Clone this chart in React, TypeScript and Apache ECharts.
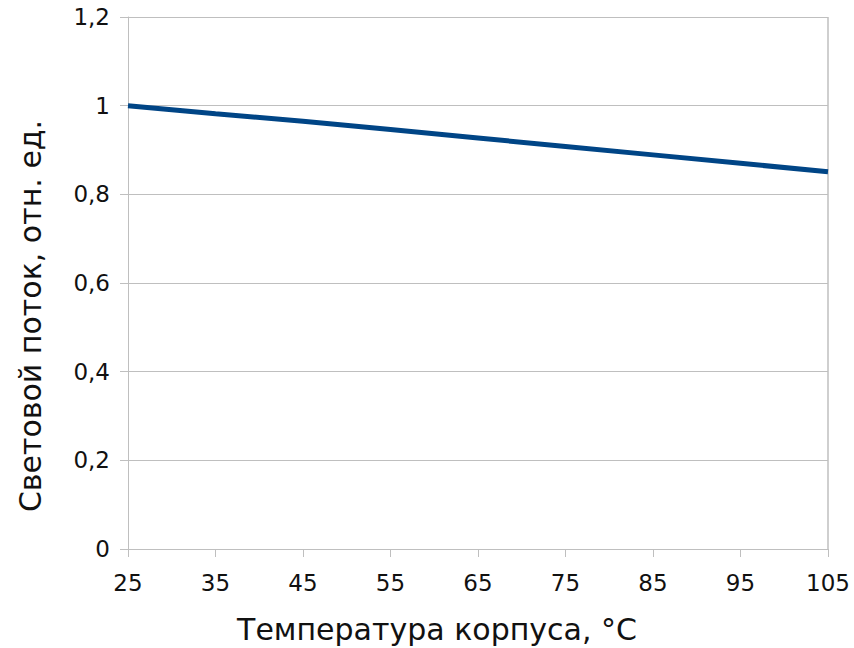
import React, { useEffect, useRef } from "react";
import * as echarts from "echarts";

const temperatures = ["25", "35", "45", "55", "65", "75", "85", "95", "105"];
const flux = [1.0, 0.982, 0.965, 0.946, 0.927, 0.908, 0.889, 0.87, 0.851];
const xTitle = "Температура корпуса, °C";
const yTitle = "Световой поток, отн. ед.";

const FONT = "DejaVu Sans";

export default function App() {
  const ref = useRef<HTMLDivElement>(null);
  useEffect(() => {
    const chart = echarts.init(ref.current!, null, { renderer: "svg" });
    chart.setOption({
      animation: false,
      textStyle: { fontFamily: FONT },
      grid: { left: 128, right: 26, top: 17, bottom: 99, containLabel: false },
      xAxis: {
        type: "category",
        data: temperatures,
        boundaryGap: false,
        axisLine: { show: true, lineStyle: { color: "#bfbfbf", width: 1 } },
        axisTick: { show: true, alignWithLabel: true, length: 8, lineStyle: { color: "#bfbfbf" } },
        axisLabel: { color: "#111", fontSize: 23, margin: 22, fontFamily: FONT },
        splitLine: { show: false },
      },
      yAxis: {
        type: "value",
        min: 0,
        max: 1.2,
        interval: 0.2,
        axisLine: { show: true, lineStyle: { color: "#bfbfbf", width: 1 } },
        axisTick: { show: true, length: 8, lineStyle: { color: "#bfbfbf" } },
        axisLabel: {
          color: "#111",
          fontSize: 23,
          margin: 18,
          fontFamily: FONT,
          formatter: (v: number) => String(Math.round(v * 10) / 10).replace(".", ","),
        },
        splitLine: { show: true, lineStyle: { color: "#bfbfbf", width: 1 } },
      },
      graphic: [
        {
          type: "rect",
          shape: { x: 828, y: 17, width: 0, height: 532 },
          style: { stroke: "#bfbfbf", lineWidth: 1, fill: "none" },
          silent: true,
        },
        {
          type: "text",
          x: 437,
          y: 629,
          style: {
            text: xTitle,
            font: `30px '${FONT}'`,
            fill: "#111",
            textAlign: "center",
            textVerticalAlign: "middle",
          },
        },
        {
          type: "text",
          x: 30,
          y: 316,
          rotation: Math.PI / 2,
          style: {
            text: yTitle,
            font: `30px '${FONT}'`,
            fill: "#111",
            textAlign: "center",
            textVerticalAlign: "middle",
          },
        },
      ],
      series: [
        {
          type: "line",
          data: flux,
          showSymbol: false,
          lineStyle: { color: "#004586", width: 5 },
          itemStyle: { color: "#004586" },
        },
      ],
    });
    return () => chart.dispose();
  }, []);
  return <div ref={ref} style={{ width: 854, height: 648, position: "absolute", left: 0, top: 0 }} />;
}
